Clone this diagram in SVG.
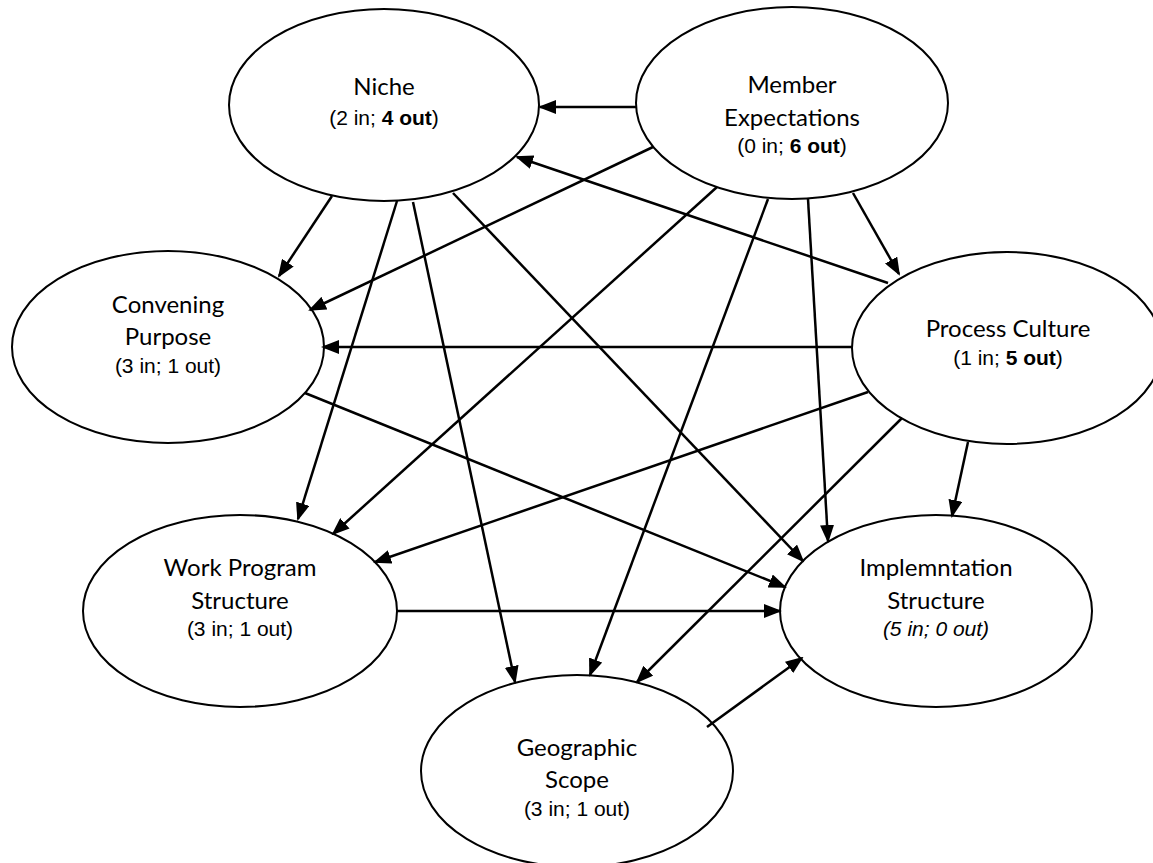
<svg xmlns="http://www.w3.org/2000/svg" width="1153" height="863" viewBox="0 0 1153 863">
<defs>
<style>
.node ellipse{fill:#fff;stroke:#000;stroke-width:2}
.t{font-family:Lato,"Liberation Sans",sans-serif;font-size:24px;fill:#000;text-anchor:middle}
.s{font-family:"Liberation Sans",Arial,sans-serif;font-size:21px;fill:#000;text-anchor:middle}
.b{font-weight:bold}
.i{font-style:italic}
#connectors line{stroke:#000;stroke-width:2.5;marker-end:url(#ah)}
</style>
<marker id="ah" markerUnits="userSpaceOnUse" markerWidth="18" markerHeight="14" refX="16" refY="7" orient="auto"><path d="M0,0 L18,7 L0,14 z" fill="#000"/></marker>
</defs>
<rect width="1153" height="863" fill="#fff"/>
<g id="niche" class="node"><ellipse cx="384" cy="105" rx="155" ry="96"/><text class="t" x="384" y="95">Niche</text><text class="s" x="384" y="125">(2 in; <tspan class="b">4 out</tspan>)</text></g>
<g id="member" class="node"><ellipse cx="792" cy="103" rx="156" ry="96"/><text class="t" x="792" y="93">Member</text><text class="t" x="792" y="126">Expectations</text><text class="s" x="792" y="153">(0 in; <tspan class="b">6 out</tspan>)</text></g>
<g id="convening" class="node"><ellipse cx="168" cy="347" rx="156" ry="96"/><text class="t" x="168" y="313">Convening</text><text class="t" x="168" y="345">Purpose</text><text class="s" x="168" y="373">(3 in; 1 out)</text></g>
<g id="process" class="node"><ellipse cx="1007" cy="348" rx="155" ry="96"/><text class="t" x="1008" y="337">Process Culture</text><text class="s" x="1008" y="365">(1 in; <tspan class="b">5 out</tspan>)</text></g>
<g id="workprogram" class="node"><ellipse cx="240" cy="611" rx="157" ry="96"/><text class="t" x="240" y="576">Work Program</text><text class="t" x="240" y="609">Structure</text><text class="s" x="240" y="636">(3 in; 1 out)</text></g>
<g id="implementation" class="node"><ellipse cx="936" cy="611" rx="156" ry="96"/><text class="t" x="936" y="576">Implemntation</text><text class="t" x="936" y="609">Structure</text><text class="s i" x="936" y="636">(5 in; 0 out)</text></g>
<g id="geographic" class="node"><ellipse cx="577" cy="771" rx="156" ry="96"/><text class="t" x="577" y="756">Geographic</text><text class="t" x="577" y="788">Scope</text><text class="s" x="577" y="816">(3 in; 1 out)</text></g>
<g id="connectors">
<line x1="636" y1="107" x2="540" y2="107"/>
<line x1="653" y1="147" x2="310" y2="310"/>
<line x1="853" y1="193" x2="899" y2="274"/>
<line x1="717" y1="187" x2="333" y2="534"/>
<line x1="768" y1="199" x2="590" y2="675"/>
<line x1="808" y1="199" x2="828" y2="541"/>
<line x1="332" y1="196" x2="279" y2="276"/>
<line x1="397" y1="201" x2="298" y2="519"/>
<line x1="413" y1="202" x2="515" y2="682"/>
<line x1="453" y1="193" x2="803" y2="561"/>
<line x1="888" y1="283" x2="517" y2="157"/>
<line x1="852" y1="347" x2="323" y2="347"/>
<line x1="868" y1="392" x2="375" y2="562"/>
<line x1="902" y1="418" x2="637" y2="682"/>
<line x1="968" y1="442" x2="952" y2="516"/>
<line x1="305" y1="393" x2="785" y2="587"/>
<line x1="396" y1="611" x2="780" y2="611"/>
<line x1="707" y1="727" x2="802" y2="658"/>
</g>
</svg>
